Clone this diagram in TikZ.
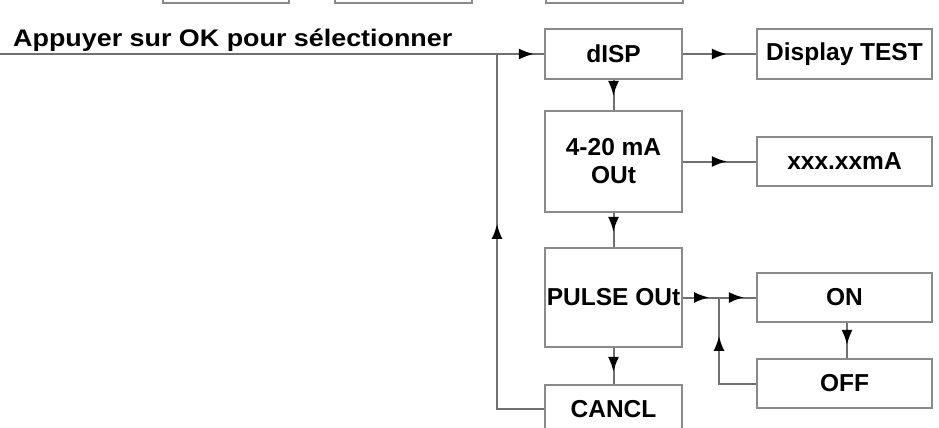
\documentclass[tikz,border=0pt]{standalone}
\usepackage{fontspec}
\setmainfont{Liberation Sans}
\usetikzlibrary{arrows.meta,decorations.markings}
\definecolor{boxgray}{HTML}{8A8A8A}
\definecolor{linegray}{HTML}{707070}
\tikzset{
  box/.style={draw=boxgray,line width=2.2pt,minimum width=137pt,inner sep=0pt,
    font=\fontsize{24.5}{28}\selectfont\bfseries,align=center},
  wbox/.style={box,minimum width=175pt,minimum height=49pt},
  conn/.style={draw=linegray,line width=2pt},
  arr/.style={conn,postaction={decorate},decoration={markings,
    mark=at position #1 with {\arrow[black]{Latex[length=15pt,width=11pt]}}}},
  arrtwo/.style 2 args={conn,postaction={decorate},decoration={markings,
    mark=at position #1 with {\arrow[black]{Latex[length=15pt,width=11pt]}},
    mark=at position #2 with {\arrow[black]{Latex[length=15pt,width=11pt]}}}}
}
\begin{document}
\begin{tikzpicture}[x=1pt,y=-1pt]
\useasboundingbox (0,0) rectangle (939,428);
\clip (0,0) rectangle (939,428);
% partial boxes at top
\node[box,minimum width=126pt,minimum height=40pt,anchor=south west] (t1) at (162,4) {};
\node[box,minimum height=40pt,anchor=south west] (t2) at (334,4) {};
\node[box,minimum height=40pt,anchor=south west] (t3) at (545,4) {};
% title
\node[anchor=base west,inner sep=0pt,font=\fontsize{24}{28}\selectfont\bfseries] (title) at (13,47)
  {\scalebox{1.12}[1]{Appuyer sur OK pour sélectionner}};
% boxes
\node[box,minimum height=50pt] (disp) at (613.5,54) {dISP};
\node[wbox,minimum height=50pt] (dtest) at (844.5,54) {Display TEST};
\node[box,minimum height=101pt] (ma) at (613.5,161.5) {4-20 mA\\OUt};
\node[wbox] (xxx) at (844.5,161.5) {xxx.xxmA};
\node[box,minimum height=99pt] (pulse) at (613.5,297.5) {PULSE OUt};
\node[box,minimum height=48pt] (cancl) at (613.5,409) {CANCL};
\node[wbox] (on) at (844.5,297.5) {ON};
\node[wbox] (off) at (844.5,383.5) {OFF};
% coordinates
\coordinate (start) at (0,54);
\coordinate (fb) at (497,54);
\coordinate (jn) at (719,297.5);
% connectors
\draw[arr=-10pt] (start) -- (disp.west);
\draw[arr=232pt] (cancl.west) -| (fb);
\draw[arr=-29pt] (disp.east) -- (dtest.west);
\draw[arr=-29pt] (ma.east) -- (xxx.west);
\draw[arr=-14pt] (disp.south) -- (ma.north);
\draw[arr=-15pt] (ma.south) -- (pulse.north);
\draw[arr=-12pt] (pulse.south) -- (cancl.north);
\draw[arrtwo={26pt}{-12pt}] (pulse.east) -- (on.west);
\draw[arr=-13pt] ([xshift=2.5pt]on.south) -- ([xshift=2.5pt]off.north);
\draw[arr=84.5pt] (off.west) -| (jn);
\end{tikzpicture}
\end{document}
